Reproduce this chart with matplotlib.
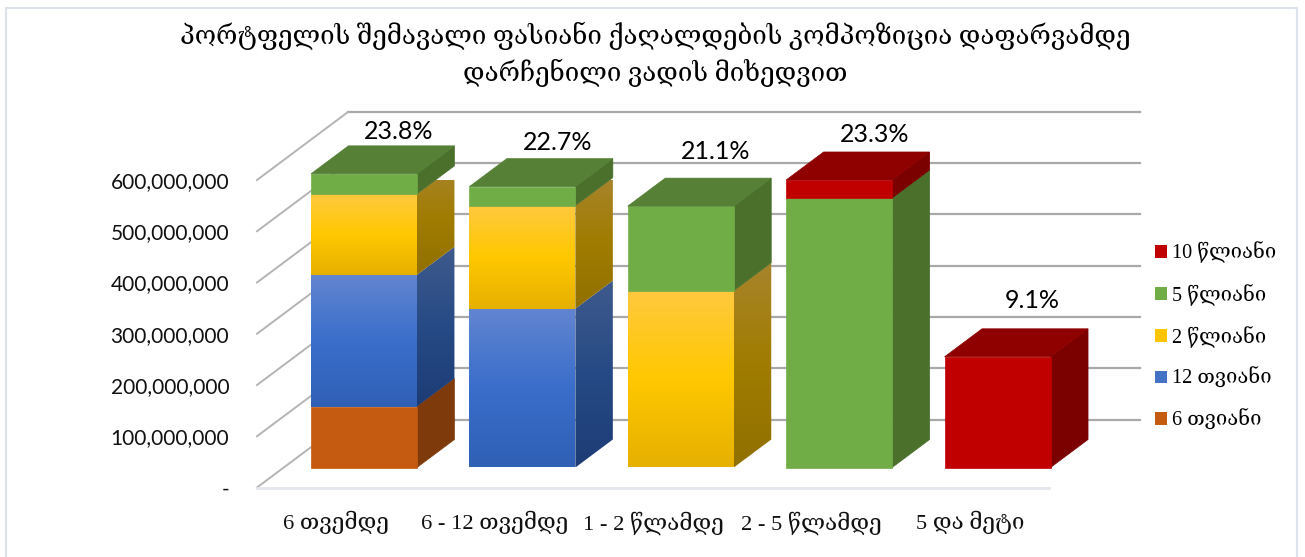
import numpy as np
import matplotlib
matplotlib.use('Agg')
import matplotlib.pyplot as plt
from matplotlib.colors import LinearSegmentedColormap
from matplotlib.patches import Patch, Polygon, Rectangle

# Values, in millions
categories = ['6 თვემდე', '6 - 12 თვემდე', '1 - 2 წლამდე', '2 - 5 წლამდე', '5 და მეტი']
six_month = [119, 0, 0, 0, 0]
twelve_month = [257, 310, 0, 0, 0]
two_year = [158, 201, 345, 0, 0]
five_year = [39, 37, 165, 526, 0]
ten_year = [0, 0, 0, 35, 216]
percent_labels = ['23.8%', '22.7%', '21.1%', '23.3%', '9.1%']
y_ticks = [0, 100, 200, 300, 400, 500, 600]
y_tick_labels = ['-', '100,000,000', '200,000,000', '300,000,000', '400,000,000', '500,000,000', '600,000,000']
title = 'პორტფელის შემავალი ფასიანი ქაღალდების კომპოზიცია დაფარვამდე\nდარჩენილი ვადის მიხედვით'

W, H = 1305, 557
SERIF = ['Liberation Serif', 'DejaVu Serif']
NUM = ['Lato', 'DejaVu Sans']

# front face, side top to bottom, side top to bottom, top face
series = [
    (six_month, '6 თვიანი', ['#c55a11'], ['#7f3a0b'], '#c55a11'),
    (twelve_month, '12 თვიანი', ['#6285d0', '#3a6ecb', '#2f60b5'], ['#3f5a8c', '#264a85', '#1d3c76'], '#4472c4'),
    (two_year, '2 წლიანი', ['#ffc93f', '#ffc800', '#e6b000'], ['#a8842c', '#a07c00', '#917000'], '#ffc400'),
    (five_year, '5 წლიანი', ['#70ad47'], ['#4a702c'], '#70ad47'),
    (ten_year, '10 წლიანი', ['#c00000'], ['#7b0000'], '#c00000'),
]
top_colors = {'5 წლიანი': '#558036', '10 წლიანი': '#8f0000'}


def gradient_poly(ax, pts, colors, zorder):
    # one colour gives a flat polygon, several a vertical gradient clipped to it
    if len(colors) == 1:
        ax.add_patch(Polygon(pts, closed=True, fc=colors[0], ec=colors[0], lw=0.5, clip_on=False, zorder=zorder))
        return
    pts = np.array(pts)
    cmap = LinearSegmentedColormap.from_list('g', colors)
    img = ax.imshow(np.linspace(0, 1, 256).reshape(-1, 1), cmap=cmap, aspect='auto', origin='upper', zorder=zorder,
                    extent=(pts[:, 0].min(), pts[:, 0].max(), pts[:, 1].min(), pts[:, 1].max()))
    clip = Polygon(pts, closed=True, transform=ax.transData)
    img.set_clip_path(clip)


fig = plt.figure(figsize=(W / 100, H / 100), dpi=100)
ax = fig.add_axes([257 / W, 1 - 487.5 / H, 792 / W, 307.5 / H])

# size of one unit of depth, in data units
floor_dx = 91 / 792 * 5
floor_dy = 68 / 307.5 * 600
bar_front = 20 / 68
bar_back = 48 / 68
bar_width = 106 / 792 * 5
bar_shift = 1 / 792 * 5

# back wall and left wall
for v in y_ticks:
    ax.plot([floor_dx, 5 + floor_dx], [v + floor_dy, v + floor_dy], color='#a9a9a9', lw=1.6, clip_on=False, zorder=1)
    ax.plot([0, floor_dx], [v, v + floor_dy], color='#b4b4b4', lw=1.4, clip_on=False, zorder=1)

for i in range(len(categories)):
    x0 = i + 0.5 - bar_width / 2 + bar_front * floor_dx + bar_shift
    x1 = x0 + bar_width
    base = bar_front * floor_dy
    dx = (bar_back - bar_front) * floor_dx
    dy = (bar_back - bar_front) * floor_dy
    z = 2 + i * 3
    bottom = 0
    top_name = None
    for values, name, front, side, mid in series:
        if values[i] == 0:
            continue
        a, b = base + bottom, base + bottom + values[i]
        gradient_poly(ax, [(x1, a), (x1, b), (x1 + dx, b + dy), (x1 + dx, a + dy)], side, z)
        gradient_poly(ax, [(x0, a), (x0, b), (x1, b), (x1, a)], front, z + 1)
        bottom += values[i]
        top_name = name
    top = base + bottom
    ax.add_patch(Polygon([(x0, top), (x1, top), (x1 + dx, top + dy), (x0 + dx, top + dy)], closed=True,
                         fc=top_colors[top_name], ec=top_colors[top_name], lw=0.5, clip_on=False, zorder=z + 2))

# hand placed in the original, each one sits a bit differently above its bar
label_gaps = [42, 44, 55, 45, 56]
for i, lab in enumerate(percent_labels):
    total = sum(s[0][i] for s in series)
    ax.annotate(lab, (i + 0.5 + bar_front * floor_dx, bar_front * floor_dy + total), xytext=(36, label_gaps[i]),
                textcoords='offset pixels', ha='center', va='center', fontsize=18, family=NUM, color='black',
                annotation_clip=False, zorder=30)

ax.set_xlim(0, 5)
ax.set_ylim(0, 600)
ax.set_xticks(np.arange(5) + 0.5)
ax.set_xticklabels(categories, family=SERIF, fontsize=16.2, color='#111111')
ax.set_yticks(y_ticks)
ax.set_yticklabels(y_tick_labels, family=NUM, fontsize=15, color='#111111')
ax.tick_params(length=0)
ax.tick_params(axis='x', pad=17)
ax.tick_params(axis='y', pad=20)
ax.patch.set_visible(False)
for s in ['top', 'right', 'left']:
    ax.spines[s].set_visible(False)
ax.spines['bottom'].set_color('#e3e6ec')
ax.spines['bottom'].set_linewidth(2)

handles = [Patch(fc=s[4], ec='none', label=s[1]) for s in reversed(series)]
fig.legend(handles=handles, loc='center left', bbox_to_anchor=(1155 / W, 1 - 336 / H), frameon=False,
           prop={'family': SERIF, 'size': 14.6}, labelspacing=1.0, handlelength=0.6, handleheight=0.6,
           handletextpad=0.25, borderaxespad=0, borderpad=0)

fig.text(655 / W, 1 - 54 / H, title, ha='center', va='center', family=SERIF, fontsize=18.6, linespacing=1.4)

# chart border
fig.add_artist(Rectangle((6 / W, -0.02), 1291 / W, 1.02 - 8 / H, transform=fig.transFigure, fc='none', ec='#dde3ec', lw=1.5))

fig.savefig('out.png', dpi=100)
